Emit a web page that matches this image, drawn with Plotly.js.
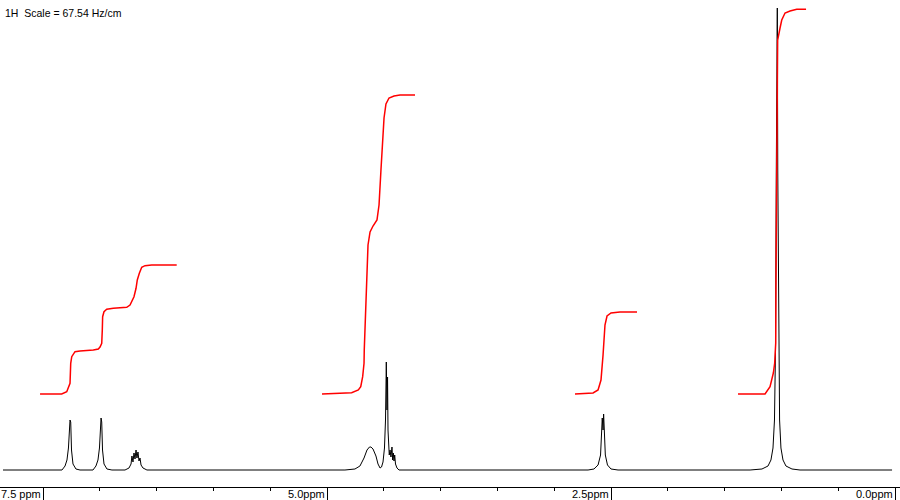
<!DOCTYPE html>
<html>
<head>
<meta charset="utf-8">
<script src="https://cdn.plot.ly/plotly-3.0.1.min.js"></script>
<style>html,body{margin:0;padding:0;background:#fff}#chart{width:900px;height:500px}</style>
</head>
<body>
<div id="chart"></div>
<script>
// Spectrum (chemical shift in ppm, intensity above baseline)
var spectrumPpm = [7.852,
  7.333,7.306,7.289,7.276,7.267,7.262,7.256,7.249,7.236,7.210,7.174,
  7.060,7.034,7.016,7.003,6.994,6.989,6.983,6.976,6.963,6.937,6.893,
  6.778,6.743,6.725,6.717,6.708,6.699,6.690,6.681,6.673,6.664,6.655,6.646,6.637,6.620,6.585,
  4.842,4.754,4.710,4.674,4.648,4.626,4.613,4.595,4.569,4.551,4.533,4.520,4.507,4.494,4.485,4.478,4.472,4.467,4.463,4.459,4.452,4.445,4.437,4.428,4.422,4.416,4.410,4.404,4.397,4.384,4.366,4.269,
  2.702,2.650,2.614,2.592,2.584,2.577,2.570,2.565,2.559,2.550,2.531,2.500,2.438,
  1.276,1.171,1.118,1.092,1.074,1.061,1.052,1.045,1.040,1.036,1.032,1.025,1.016,1.004,0.986,0.960,0.907,0.836,0.026];
var spectrumInt = [0,
  0,4,10,22,45,50,48,20,6,1,0,
  0,4,10,22,45,52,48,20,6,1,0,
  0,2,6,14,8,17,11,20,12,18,9,12,5,2,0,
  0,1,4,12,20,23,23,21,14,6,2,3,8,22,50,108,60,93,40,23,15,20,13,23,10,17,9,15,6,2,0,0,
  0,1,5,15,35,52,40,56,40,15,5,1,0,
  0,1,4,10,22,50,120,300,462,462,300,120,50,22,10,4,1,0,0];

// Integral curves
var integral1Ppm = [7.526,7.335,7.291,7.276,7.262,7.256,7.247,7.218,7.174,7.057,7.013,6.998,6.983,6.978,6.975,6.963,6.939,6.881,6.763,6.734,6.719,6.699,6.681,6.670,6.652,6.631,6.602,6.543,6.323];
var integral1Val = [76,76,78.3,82,86.7,106.7,113.3,118.3,119,120,121,123,126.7,140,153.3,158.3,160.7,161.7,162.7,165,168.3,173.3,181.7,190,196.7,202.7,204.3,205,205];
var integral2Ppm = [5.044,4.886,4.783,4.724,4.703,4.686,4.674,4.672,4.657,4.639,4.621,4.595,4.560,4.542,4.525,4.511,4.498,4.481,4.454,4.410,4.357,4.225];
var integral2Val = [76,76.7,77.3,80,83.3,93.3,106.7,120,170,225,238,244,250,265,300,330,352,366,372,374,375,375];
var integral3Ppm = [2.817,2.658,2.614,2.588,2.570,2.553,2.535,2.500,2.421,2.271];
var integral3Val = [76,77,80,90,115,145,154,157,158,158];
var integral4Ppm = [1.382,1.144,1.100,1.071,1.059,1.050,1.048,1.043,1.039,1.033,1.012,0.997,0.968,0.924,0.865,0.783];
var integral4Val = [76,76,83.3,97,107,127,183,270,370,430,442,450,457,459,460.7,460.7];

// Axis labels
var tickVals = [7.5, 5.0, 2.5, 0.0];
var tickLabels = ['7.5 ppm', '5.0ppm', '2.5ppm', '0.0ppm'];
var scaleText = '1H  Scale = 67.54 Hz/cm';

var traces = [
  {x: spectrumPpm, y: spectrumInt, type: 'scatter', mode: 'lines', line: {color: '#000000', width: 1}, hoverinfo: 'skip'}
];
[[integral1Ppm, integral1Val], [integral2Ppm, integral2Val], [integral3Ppm, integral3Val], [integral4Ppm, integral4Val]].forEach(function (g) {
  traces.push({x: g[0], y: g[1], type: 'scatter', mode: 'lines', line: {color: '#ff0000', width: 1.5}, hoverinfo: 'skip'});
});

var annotations = tickVals.map(function (v, i) {
  return {x: v, xref: 'x', y: 0, yref: 'paper', xanchor: 'right', yanchor: 'top',
    xshift: -1, yshift: 0, showarrow: false, borderpad: 0, text: tickLabels[i],
    font: {family: 'Liberation Sans, Arial, sans-serif', size: 11, color: '#000'}};
});
annotations.push({x: 0, xref: 'paper', y: 1, yref: 'paper', xanchor: 'left', yanchor: 'top',
  xshift: 4, yshift: -6, showarrow: false, borderpad: 0, text: scaleText,
  font: {family: 'Liberation Sans, Arial, sans-serif', size: 10.5, color: '#000'}});

var layout = {
  width: 900, height: 500,
  margin: {l: 0, r: 0, t: 0, b: 13, pad: 0},
  paper_bgcolor: '#ffffff', plot_bgcolor: '#ffffff',
  showlegend: false,
  xaxis: {
    range: [7.8785, -0.044], showline: true, linecolor: '#000', linewidth: 1,
    ticks: 'outside', ticklen: 13, tickwidth: 1, tickcolor: '#000',
    tickmode: 'linear', tick0: 0, dtick: 2.5, showticklabels: false,
    showgrid: false, zeroline: false, fixedrange: true,
    minor: {ticks: 'outside', ticklen: 3, tickwidth: 1, tickcolor: '#000', tickmode: 'linear', tick0: 0, dtick: 0.5, showgrid: false}
  },
  yaxis: {range: [-17, 470], visible: false, showgrid: false, zeroline: false, fixedrange: true},
  annotations: annotations
};

Plotly.newPlot('chart', traces, layout, {staticPlot: true, displayModeBar: false});
</script>
</body>
</html>
